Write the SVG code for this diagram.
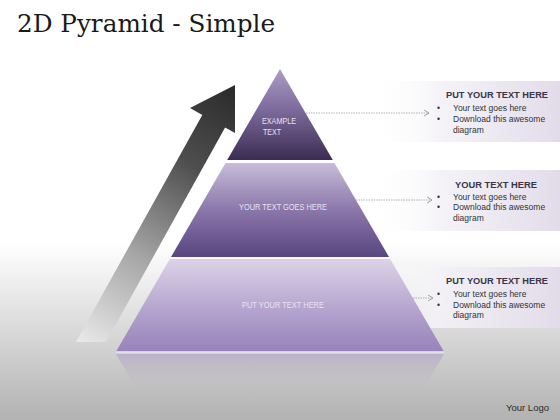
<svg xmlns="http://www.w3.org/2000/svg" width="560" height="420" viewBox="0 0 560 420">
<defs>
<linearGradient id="bg" x1="0" y1="0" x2="0" y2="420" gradientUnits="userSpaceOnUse">
<stop offset="0" stop-color="#ffffff"/><stop offset="0.58" stop-color="#ffffff"/><stop offset="1" stop-color="#b2b2b2"/>
</linearGradient>
<linearGradient id="gTop" x1="0" y1="0" x2="0" y2="1">
<stop offset="0" stop-color="#ab9cc6"/><stop offset="0.45" stop-color="#7d6a9c"/><stop offset="1" stop-color="#3b2c52"/>
</linearGradient>
<linearGradient id="gMid" x1="0" y1="0" x2="0" y2="1">
<stop offset="0" stop-color="#c8bcd9"/><stop offset="0.5" stop-color="#8b77aa"/><stop offset="1" stop-color="#594580"/>
</linearGradient>
<linearGradient id="gBot" x1="0" y1="0" x2="0" y2="1">
<stop offset="0" stop-color="#dcd3e8"/><stop offset="0.6" stop-color="#b1a0cc"/><stop offset="1" stop-color="#9883bb"/>
</linearGradient>
<linearGradient id="gRefl" x1="0" y1="0" x2="0" y2="1">
<stop offset="0" stop-color="#b3a6c6" stop-opacity="0.7"/><stop offset="1" stop-color="#c0c0c0" stop-opacity="0"/>
</linearGradient>
<linearGradient id="gArrow" x1="235" y1="85" x2="78" y2="342" gradientUnits="userSpaceOnUse">
<stop offset="0" stop-color="#2a2a2a"/><stop offset="0.3" stop-color="#4e4e4e"/><stop offset="0.65" stop-color="#a5a5a5"/><stop offset="1" stop-color="#e9e9e9"/>
</linearGradient>
<linearGradient id="gPanel" x1="0" y1="0" x2="1" y2="0">
<stop offset="0" stop-color="#ffffff" stop-opacity="0"/><stop offset="0.35" stop-color="#f4f2f7" stop-opacity="0.9"/><stop offset="1" stop-color="#e2dcea"/>
</linearGradient>
<marker id="arr" markerWidth="8" markerHeight="8" refX="6" refY="4" orient="auto" markerUnits="userSpaceOnUse">
<path d="M1,1 L6,4 L1,7" fill="none" stroke="#9a9a9a" stroke-width="0.9"/>
</marker>
</defs>
<style>
.ptxt{font-family:"Liberation Sans",Arial,sans-serif;font-size:8.5px;fill:#e8e2f2}
.ttl{font-family:"Liberation Sans",Arial,sans-serif;font-size:9.8px;font-weight:bold;fill:#3a3648}
.bul{font-family:"Liberation Sans",Arial,sans-serif;font-size:8.5px;fill:#333333}
.con{stroke:#a0a0a0;stroke-width:0.8;stroke-dasharray:1.5 1;fill:none}
</style>
<rect x="0" y="0" width="560" height="420" fill="url(#bg)"/>
<text x="17" y="32" font-family="DejaVu Serif,serif" font-size="25" fill="#1a1a1a" textLength="258" lengthAdjust="spacingAndGlyphs">2D Pyramid - Simple</text>
<g id="panel-1">
<rect x="372" y="81" width="188" height="61" fill="url(#gPanel)"/>
<text class="ttl" x="497" y="98" text-anchor="middle" textLength="102" lengthAdjust="spacingAndGlyphs">PUT YOUR TEXT HERE</text>
<text class="bul" x="437" y="111">•</text><text class="bul" x="453" y="111">Your text goes here</text>
<text class="bul" x="437" y="122">•</text><text class="bul" x="453" y="122">Download this awesome</text>
<text class="bul" x="453" y="132.5">diagram</text>
</g>
<g id="panel-2">
<rect x="372" y="170" width="188" height="61" fill="url(#gPanel)"/>
<text class="ttl" x="496" y="187.5" text-anchor="middle" textLength="82" lengthAdjust="spacingAndGlyphs">YOUR TEXT HERE</text>
<text class="bul" x="437" y="199.5">•</text><text class="bul" x="453" y="199.5">Your text goes here</text>
<text class="bul" x="437" y="210">•</text><text class="bul" x="453" y="210">Download this awesome</text>
<text class="bul" x="453" y="220.5">diagram</text>
</g>
<g id="panel-3">
<rect x="372" y="267" width="188" height="61" fill="url(#gPanel)"/>
<text class="ttl" x="497" y="284" text-anchor="middle" textLength="102" lengthAdjust="spacingAndGlyphs">PUT YOUR TEXT HERE</text>
<text class="bul" x="437" y="296.5">•</text><text class="bul" x="453" y="296.5">Your text goes here</text>
<text class="bul" x="437" y="307.5">•</text><text class="bul" x="453" y="307.5">Download this awesome</text>
<text class="bul" x="453" y="318">diagram</text>
</g>
<g id="arrow">
<polygon points="235,85 235,133 225.1,127.5 106,342 76,342 202.3,114.9 190,108" fill="url(#gArrow)"/>
</g>
<g id="reflection">
<polygon points="116,354 444,354 420,395 140,395" fill="url(#gRefl)"/>
<line x1="116" y1="352.5" x2="444" y2="352.5" stroke="#e2e0e6" stroke-width="1.5"/>
</g>
<g id="layer-top">
<polygon points="280,69 332.8,160 227.2,160" fill="url(#gTop)"/>
<text class="ptxt" x="262" y="124" textLength="34" lengthAdjust="spacingAndGlyphs">EXAMPLE</text>
<text class="ptxt" x="263" y="134.5" textLength="18" lengthAdjust="spacingAndGlyphs">TEXT</text>
</g>
<g id="layer-middle">
<polygon points="225.5,163 334.5,163 389,257 171,257" fill="url(#gMid)"/>
<text class="ptxt" x="283" y="210" text-anchor="middle" textLength="88" lengthAdjust="spacingAndGlyphs">YOUR TEXT GOES HERE</text>
</g>
<g id="layer-bottom">
<polygon points="169.8,259 390.2,259 443.6,351 116.4,351" fill="url(#gBot)"/>
<text class="ptxt" x="283" y="308" text-anchor="middle" textLength="82" lengthAdjust="spacingAndGlyphs">PUT YOUR TEXT HERE</text>
</g>
<g id="connectors">
<line class="con" x1="306" y1="113" x2="429" y2="113" marker-end="url(#arr)"/>
<line class="con" x1="356" y1="200" x2="432" y2="200" marker-end="url(#arr)"/>
<line class="con" x1="413" y1="298" x2="433" y2="298" marker-end="url(#arr)"/>
</g>
<text x="549" y="410.5" text-anchor="end" font-family="Liberation Sans,Arial,sans-serif" font-size="9.5" fill="#2a2a2a">Your Logo</text>
</svg>
